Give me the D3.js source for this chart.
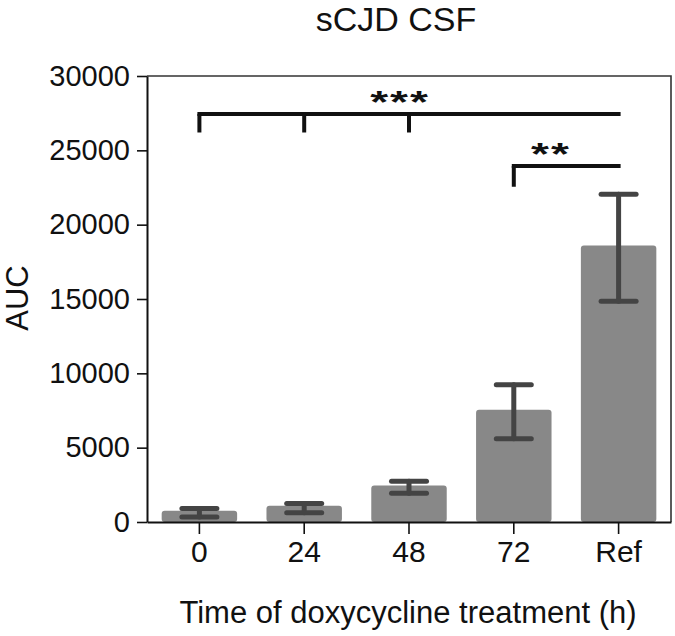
<!DOCTYPE html>
<html>
<head>
<meta charset="utf-8">
<script src="https://cdn.jsdelivr.net/npm/d3@7"></script>
<style>
  body { margin: 0; background: #fff; }
  svg text { font-family: "Liberation Sans", Arial, Helvetica, sans-serif; fill: #111; }
</style>
</head>
<body>
<div id="chart"></div>
<script>
// data
const categories = ["0", "24", "48", "72", "Ref"];
const means = [750, 1100, 2450, 7550, 18600];
const errLow = [330, 620, 1930, 5600, 14850];
const errHigh = [900, 1250, 2740, 9230, 22050];
const yTicks = [0, 5000, 10000, 15000, 20000, 25000, 30000];

// significance brackets: which categories, bracket level, drop end, label
const brackets = [
  { from: "0", to: "Ref", drops: ["0", "24", "48"], level: 27450, dropTo: 26200, label: "***", labelAt: 400 },
  { from: "72", to: "Ref", drops: ["72"], level: 23950, dropTo: 22550, label: "**", labelAt: 551 },
];

const width = 675;
const height = 636;
const margin = { top: 76, right: 4, bottom: 114, left: 147 };

const plot = {
  left: margin.left,
  right: width - margin.right,
  top: margin.top,
  bottom: height - margin.bottom,
};

const svg = d3
  .select("#chart")
  .append("svg")
  .attr("width", width)
  .attr("height", height);

const xScale = d3
  .scaleBand()
  .domain(categories)
  .range([plot.left, plot.right])
  .paddingInner(0.28)
  .paddingOuter(0.14);

const yScale = d3
  .scaleLinear()
  .domain([0, 30000])
  .range([plot.bottom, plot.top]);

// frame (top + right)
svg
  .append("path")
  .attr("d", `M${plot.left},${plot.top}H${plot.right}V${plot.bottom}`)
  .attr("fill", "none")
  .attr("stroke", "#333")
  .attr("stroke-width", 1.6);

// bars
svg
  .append("g")
  .selectAll("rect")
  .data(categories)
  .join("rect")
  .attr("x", (d) => xScale(d))
  .attr("y", (d, i) => yScale(means[i]))
  .attr("width", xScale.bandwidth())
  .attr("height", (d, i) => yScale(0) - yScale(means[i]))
  .attr("rx", 3)
  .attr("fill", "#888888");

// error bars
const errG = svg
  .append("g")
  .attr("stroke", "#444")
  .attr("stroke-width", 5)
  .attr("stroke-linecap", "round");

categories.forEach((c, i) => {
  const cx = xScale(c) + xScale.bandwidth() / 2;
  const capW = 17.5;
  errG.append("line")
    .attr("x1", cx).attr("x2", cx)
    .attr("y1", yScale(errLow[i])).attr("y2", yScale(errHigh[i]));
  [errLow[i], errHigh[i]].forEach((v) => {
    errG.append("line")
      .attr("x1", cx - capW).attr("x2", cx + capW)
      .attr("y1", yScale(v)).attr("y2", yScale(v));
  });
});

// axes
const yAxis = svg
  .append("g")
  .attr("transform", `translate(${plot.left},0)`)
  .call(
    d3.axisLeft(yScale)
      .tickValues(yTicks)
      .tickFormat(d3.format("d"))
      .tickSize(10)
      .tickPadding(7)
      .tickSizeOuter(0)
  );

yAxis.select(".domain").attr("stroke", "#111").attr("stroke-width", 2);
yAxis.selectAll(".tick line").attr("stroke", "#111").attr("stroke-width", 1.6);
yAxis.selectAll(".tick text").style("font-size", "29px").attr("fill", "#111");

const xAxis = svg
  .append("g")
  .attr("transform", `translate(0,${plot.bottom})`)
  .call(d3.axisBottom(xScale).tickSize(12).tickPadding(7).tickSizeOuter(0));

xAxis.select(".domain").attr("stroke", "#111").attr("stroke-width", 2);
xAxis.selectAll(".tick line").attr("stroke", "#111").attr("stroke-width", 1.6);
xAxis.selectAll(".tick text").style("font-size", "30px").attr("fill", "#111");

// significance brackets
const center = (c) => xScale(c) + xScale.bandwidth() / 2;
brackets.forEach((b) => {
  const g = svg.append("g").attr("stroke", "#111").attr("stroke-width", 4).attr("fill", "none");
  const y = yScale(b.level);
  g.append("line")
    .attr("x1", center(b.from) - 2).attr("x2", center(b.to) + 2)
    .attr("y1", y).attr("y2", y);
  b.drops.forEach((d) => {
    g.append("line")
      .attr("x1", center(d)).attr("x2", center(d))
      .attr("y1", y).attr("y2", yScale(b.dropTo));
  });
  // asterisks are flatter in the reference, so squash them a bit
  svg
    .append("text")
    .attr("transform", `translate(${b.labelAt},${y - 1}) scale(1,0.7)`)
    .attr("text-anchor", "middle")
    .style("font-size", "46px")
    .style("font-weight", "bold")
    .style("letter-spacing", "2px")
    .text(b.label);
});

// title
svg
  .append("text")
  .attr("x", 396)
  .attr("y", 31)
  .attr("text-anchor", "middle")
  .style("font-size", "34px")
  .text("sCJD CSF");

// x label
svg
  .append("text")
  .attr("x", 408)
  .attr("y", 623)
  .attr("text-anchor", "middle")
  .style("font-size", "31px")
  .text("Time of doxycycline treatment (h)");

// y label
svg
  .append("text")
  .attr("transform", "translate(28,298) rotate(-90)")
  .attr("text-anchor", "middle")
  .style("font-size", "31px")
  .text("AUC");
</script>
</body>
</html>
